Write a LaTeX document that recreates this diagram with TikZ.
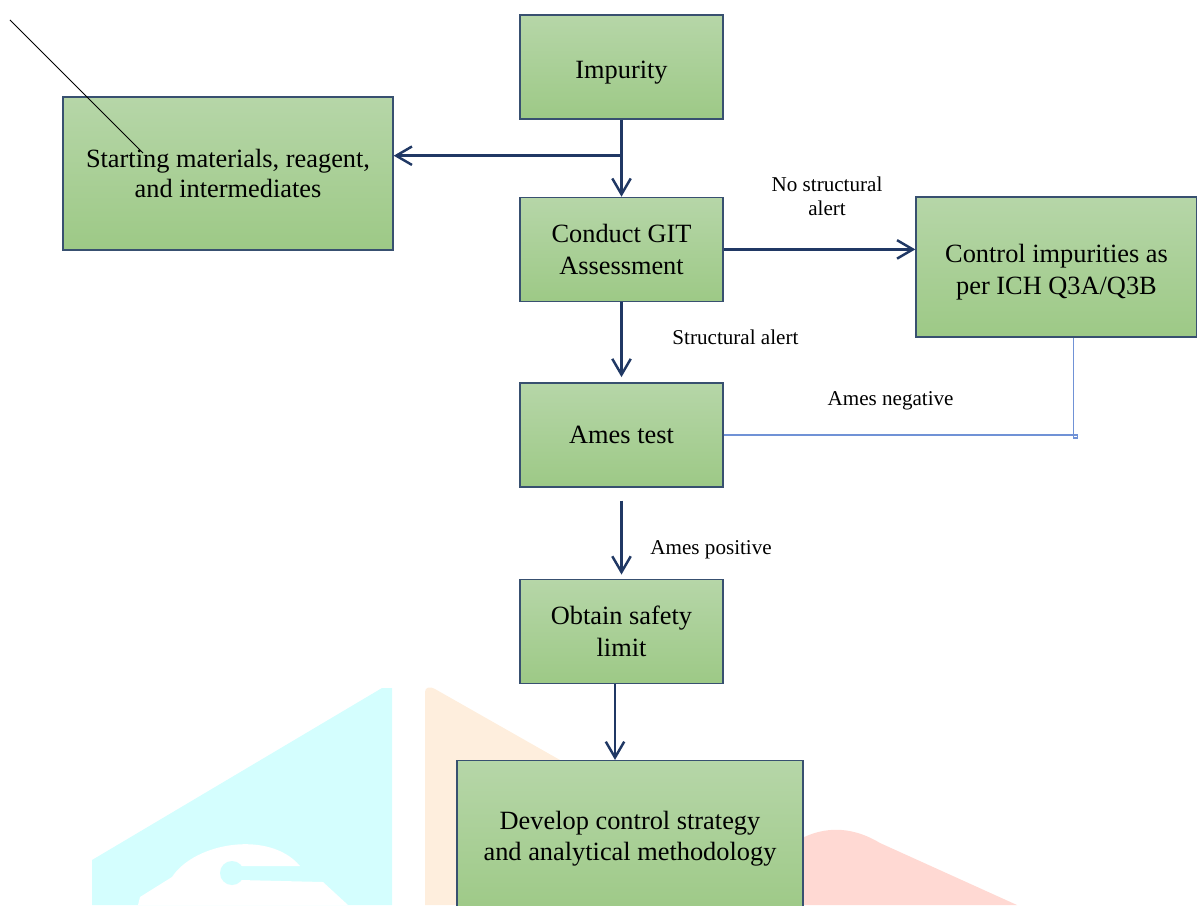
\documentclass[tikz,border=0pt]{standalone}
\usepackage{fontspec}
\setmainfont{Liberation Serif}
\usetikzlibrary{arrows.meta, positioning, calc}

\definecolor{boxtop}{RGB}{182,214,168}
\definecolor{boxbot}{RGB}{157,201,134}
\definecolor{boxline}{RGB}{56,80,112}
\definecolor{flow}{RGB}{32,56,100}
\definecolor{negline}{RGB}{112,146,214}
\definecolor{wmcyan}{RGB}{212,254,254}
\definecolor{wmorange}{RGB}{254,238,221}
\definecolor{wmpink}{RGB}{255,217,211}

\tikzset{
  stepbox/.style={draw=boxline, line width=0.8pt, top color=boxtop, bottom color=boxbot,
    align=center, inner sep=0pt, minimum width=4.06cm, minimum height=2.08cm,
    font=\fontsize{15}{17.8}\selectfont},
  flowarrow/.style={->, draw=flow, line width=1.4pt},
  negarrow/.style={draw=negline, line width=0.9pt},
  lbl/.style={font=\fontsize{12}{13.6}\selectfont, align=center, inner sep=1pt}
}

\begin{document}
\begin{tikzpicture}[>={Straight Barb[length=9pt,width=10.5pt]}]
  \useasboundingbox (0,0) rectangle (23.94,-18.1);

  % watermark in the background
  \fill[wmcyan] (7.64,-13.76) -- (7.84,-13.76) -- (7.84,-18.1) -- (1.84,-18.1) -- (1.84,-17.2) -- cycle;
  \fill[white] (2.76,-18.1) -- (2.80,-17.94) -- (3.44,-17.54) .. controls (3.9,-16.84) and (5.4,-16.6) .. (6.0,-17.32)
    -- (4.8,-17.32) -- (4.8,-17.6) -- (6.46,-17.64) -- (6.96,-18.1) -- cycle;
  \fill[wmcyan] (4.64,-17.46) circle (0.24);
  \fill[wmorange] (8.5,-18.1) -- (8.5,-13.84) .. controls (8.5,-13.74) and (8.6,-13.72) .. (8.7,-13.78)
    -- (11.2,-15.2) -- (11.2,-18.1) -- cycle;
  \fill[wmpink] (15.8,-18.1) -- (15.8,-16.9) .. controls (16.4,-16.5) and (17.0,-16.5) .. (17.6,-16.86)
    -- (20.34,-18.1) -- cycle;

  % Main column
  \node (imp) [stepbox] at (12.43,-1.34) {\rule{0pt}{0.57cm}Impurity};
  \node (git) [stepbox, below=1.54cm of imp] {Conduct GIT\\Assessment};
  \node (ames) [stepbox, below=1.6cm of git] {Ames test};
  \node (safe) [stepbox, below=1.82cm of ames] {Obtain safety\\limit};
  \node (dev) [stepbox, minimum width=6.92cm, minimum height=3.12cm,
    below=1.52cm of safe, xshift=0.17cm] {Develop control strategy\\and analytical methodology};

  % Side boxes
  \node (start) [stepbox, minimum width=6.6cm, minimum height=3.06cm,
    font=\fontsize{15}{17}\selectfont] at (4.56,-3.47) {Starting materials, reagent,\\and intermediates};
  \node (ctrl) [stepbox, minimum width=5.62cm, minimum height=2.8cm] at (21.13,-5.34)
    {\rule{0pt}{0.57cm}Control impurities as\\per ICH Q3A/Q3B};

  % --- Arrows down the column ---
  \draw[flowarrow] (imp) -- (git);
  \coordinate (split) at ($(imp.south)+(0,-0.72)$);
  \draw[flowarrow] (split) -- (split -| start.east);

  \draw[flowarrow] (git.east) -- node[lbl, above=0.62cm, xshift=0.15cm]{No structural\\alert} (git.east -| ctrl.west);
  \draw[flowarrow, shorten >=0.1cm] (git) -- node[lbl, right=0.96cm, yshift=0.1cm]{Structural alert} (ames);
  \draw[flowarrow, shorten <=0.26cm, shorten >=0.08cm] (ames) -- node[lbl, right=0.52cm, yshift=-0.34cm]{Ames positive} (safe);
  \draw[flowarrow] ([xshift=-0.13cm]safe.south) -- ([xshift=-0.13cm]safe.south |- dev.north);

  % --- Ames negative back to the control box ---
  \draw[negarrow] (ames.east) -| node[lbl, pos=0.25, above=0.45cm, xshift=-0.16cm]{Ames negative} ([xshift=0.34cm]ctrl.south);
  \draw[negarrow] ([xshift=0.34cm]ctrl.south |- ames.east) rectangle ++(0.08,-0.06);

  % stray line over the starting box
  \coordinate (s0) at (0.2,-0.4);
  \coordinate (s1) at (2.86,-3.06);
  \draw[black, line width=0.6pt] (s0) -- (s1);
\end{tikzpicture}
\end{document}
